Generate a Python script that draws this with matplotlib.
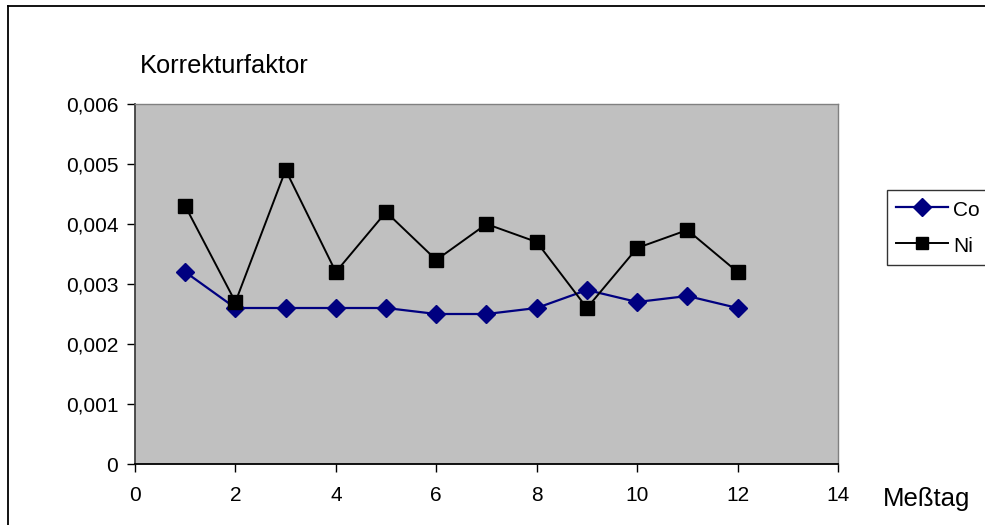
import matplotlib
matplotlib.use("Agg")
import matplotlib.pyplot as plt
from matplotlib.lines import Line2D
from matplotlib.ticker import FuncFormatter

days = [1, 2, 3, 4, 5, 6, 7, 8, 9, 10, 11, 12]
co = [0.0032, 0.0026, 0.0026, 0.0026, 0.0026, 0.0025, 0.0025, 0.0026, 0.0029, 0.0027, 0.0028, 0.0026]
ni = [0.0043, 0.0027, 0.0049, 0.0032, 0.0042, 0.0034, 0.0040, 0.0037, 0.0026, 0.0036, 0.0039, 0.0032]
x_ticks = [0, 2, 4, 6, 8, 10, 12, 14]
y_ticks = [0, 0.001, 0.002, 0.003, 0.004, 0.005, 0.006]

plt.rcParams['font.family'] = ['Liberation Sans', 'DejaVu Sans']

fig = plt.figure(figsize=(9.85, 5.25), dpi=100)

# outer chart frame (runs off the right and bottom edges)
fig.add_artist(Line2D([8 / 985, 8 / 985], [1 - 6 / 525, -0.1], transform=fig.transFigure,
                      color='black', lw=1.3))
fig.add_artist(Line2D([8 / 985, 1.1], [1 - 6 / 525, 1 - 6 / 525], transform=fig.transFigure,
                      color='black', lw=1.3))

ax = fig.add_axes([135 / 985, 1 - 464 / 525, 703 / 985, 360 / 525])
ax.set_facecolor('#c0c0c0')

ax.plot(days, co, color='#000080', lw=1.6, marker='D', markersize=9,
        markerfacecolor='#000080', markeredgecolor='#000080', label='Co', zorder=3)
ax.plot(days, ni, color='black', lw=1.4, marker='s', markersize=9.5,
        markerfacecolor='black', markeredgecolor='black', label='Ni', zorder=3)

ax.set_xlim(0, 14)
ax.set_ylim(0, 0.006)
ax.set_xticks(x_ticks)
ax.set_yticks(y_ticks)
ax.xaxis.set_major_formatter(FuncFormatter(lambda v, p: f"{v:g}"))
ax.yaxis.set_major_formatter(FuncFormatter(lambda v, p: "0" if v == 0 else f"{v:.3f}".replace('.', ',')))
ax.tick_params(axis='both', direction='out', length=6, width=1, labelsize=15, color='black')
ax.tick_params(axis='x', pad=10)
ax.tick_params(axis='y', pad=6)

for side in ('top', 'right'):
    ax.spines[side].set_color('#808080')
    ax.spines[side].set_linewidth(1)
ax.spines['left'].set_color('#404040')
ax.spines['left'].set_linewidth(1.3)
ax.spines['bottom'].set_color('black')
ax.spines['bottom'].set_linewidth(1.3)

fig.text(140 / 985, 1 - 73 / 525, 'Korrekturfaktor', fontsize=18.3, ha='left', va='baseline')
fig.text(883 / 985, 1 - 506 / 525, 'Meßtag', fontsize=18.5, ha='left', va='baseline')

leg = fig.legend(loc='upper left', bbox_to_anchor=(887 / 985, 1 - 190 / 525),
                 frameon=True, fancybox=False, edgecolor='black', fontsize=15,
                 handlelength=2.5, handleheight=1.12, handletextpad=0.24, borderpad=0.42,
                 labelspacing=0.71, borderaxespad=0)
leg.get_frame().set_linewidth(1)
for h in leg.legend_handles:
    h.set_markersize(9)

fig.savefig('out.png', dpi=100)
